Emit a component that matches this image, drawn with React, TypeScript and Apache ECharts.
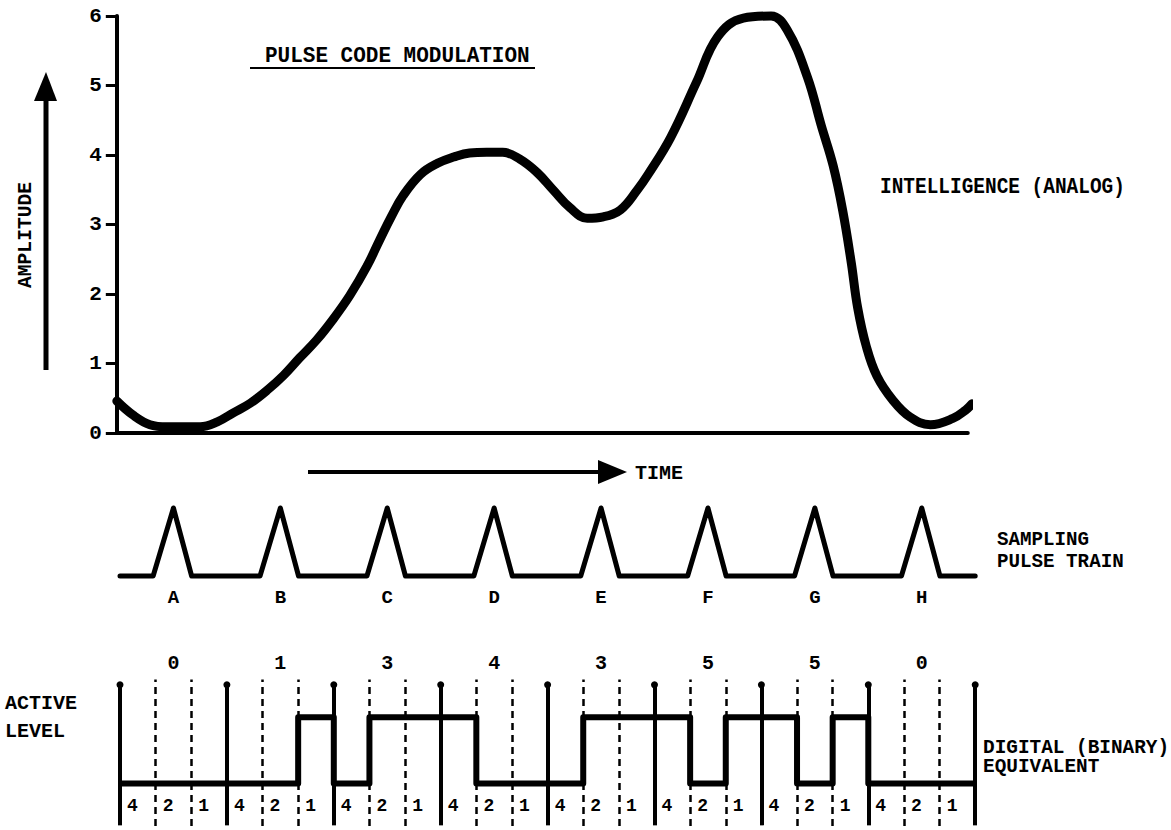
import React, { useEffect, useRef } from "react";
import * as echarts from "echarts";

// ---- data ----
const ANALOG_TIME = [-0.03, 0.12, 0.28, 0.44, 0.75, 0.91, 1.06, 1.22, 1.38, 1.53, 1.68, 1.84, 1.99, 2.15, 2.31, 2.43, 2.54, 2.65, 2.81, 2.97, 3.12, 3.27, 3.43, 3.58, 3.74, 3.9, 4.05, 4.21, 4.37, 4.52, 4.68, 4.84, 4.94, 5.15, 5.39, 5.59, 5.83, 6.09, 6.24, 6.43, 6.56, 6.67, 6.76, 6.84, 6.9, 6.98, 7.08, 7.23, 7.39, 7.58, 7.79, 7.91, 7.97];
const ANALOG_AMPLITUDE = [0.46, 0.26, 0.12, 0.09, 0.09, 0.16, 0.29, 0.43, 0.62, 0.83, 1.08, 1.34, 1.63, 1.98, 2.4, 2.78, 3.12, 3.42, 3.72, 3.88, 3.97, 4.03, 4.04, 4.04, 3.94, 3.75, 3.5, 3.24, 3.09, 3.11, 3.21, 3.5, 3.72, 4.25, 5.04, 5.7, 5.97, 6.0, 5.8, 5.12, 4.42, 3.85, 3.2, 2.45, 1.8, 1.25, 0.82, 0.47, 0.23, 0.12, 0.21, 0.33, 0.42];
const AMPLITUDE_TICKS = ["0", "1", "2", "3", "4", "5", "6"];
const SAMPLE_LABELS = ["A", "B", "C", "D", "E", "F", "G", "H"];
const SAMPLE_CODES = [0, 1, 3, 4, 3, 5, 5, 0];
const BIT_WEIGHTS = ["4", "2", "1"];
const BIT_VALUES = [4, 2, 1];

// pulse shape (styling of the sampling pulse, in sample periods)
const PULSE_RISE = 0.19;
const PULSE_FALL = 0.17;

const FONT = "Liberation Mono";

export default function App() {
  const ref = useRef<HTMLDivElement>(null);

  useEffect(() => {
    if (!ref.current) return;
    const chart = echarts.init(ref.current, null, { renderer: "svg" });
    const N = SAMPLE_LABELS.length;

    const analogData = ANALOG_TIME.map((t, i) => [t, ANALOG_AMPLITUDE[i]]);

    const pulseData: number[][] = [[0, 0]];
    for (let i = 0; i < N; i++) {
      const c = i + 0.5;
      pulseData.push([c - PULSE_RISE, 0], [c, 1], [c + PULSE_FALL, 0]);
    }
    pulseData.push([N, 0]);

    const letterData = SAMPLE_LABELS.map((l, i) => ({ value: [i + 0.5, -0.33], name: l }));

    const waveData: number[][] = [];
    SAMPLE_CODES.forEach((code, i) => {
      BIT_VALUES.forEach((w, j) => {
        const b = code & w ? 1 : 0;
        waveData.push([i + j / 3, b], [i + (j + 1) / 3, b]);
      });
    });

    const codeData = SAMPLE_CODES.map((c, i) => ({ value: [i + 0.5, 1.82], name: String(c) }));
    const bitLabelData: any[] = [];
    for (let i = 0; i < N; i++) {
      BIT_WEIGHTS.forEach((w, j) => {
        bitLabelData.push({ value: [i + (j + 0.5) / 3 - 0.05, -0.34], name: w });
      });
    }

    const solidLines = [];
    for (let i = 0; i <= N; i++) {
      solidLines.push([{ coord: [i, -0.63] }, { coord: [i, 1.49] }]);
    }
    const dashedLines = [];
    for (let i = 0; i < N; i++) {
      for (let j = 1; j < 3; j++) {
        dashedLines.push([{ coord: [i + j / 3, -0.64] }, { coord: [i + j / 3, 1.57] }]);
      }
    }

    const txt = (text: string, x: number, y: number, size: number, scaleX = 1, extra: any = {}) => ({
      type: "text",
      x,
      y,
      scaleX,
      silent: true,
      style: {
        text,
        fill: "#000",
        fontFamily: FONT,
        fontWeight: "bold",
        fontSize: size,
        align: "left",
        verticalAlign: "middle",
      },
      ...extra,
    });

    const labelStyle = (size: number) => ({
      show: true,
      position: "inside",
      formatter: (p: any) => p.name,
      color: "#000",
      opacity: 1,
      fontFamily: FONT,
      fontWeight: "bold",
      fontSize: size,
      textBorderWidth: 0,
      textBorderColor: "transparent",
    });

    const labelSeries = (name: string, data: any[], size: number, extra: any = {}) => ({
      name,
      type: "scatter",
      data,
      symbol: "circle",
      symbolSize: 0,
      itemStyle: { color: "#000000", opacity: 1 },
      label: labelStyle(size),
      emphasis: { disabled: true },
      silent: true,
      z: 5,
      ...extra,
    });

    const option: any = {
      animation: false,
      backgroundColor: "#ffffff",
      grid: [
        { left: 116.8, top: 16, width: 851, height: 417 },
        { left: 120, top: 508, width: 855.2, height: 102 },
        { left: 120, top: 657.7, width: 855.2, height: 174.2 },
      ],
      xAxis: [
        {
          gridIndex: 0,
          type: "value",
          min: -0.03,
          max: 7.93,
          axisLine: { show: true, lineStyle: { color: "#000", width: 4 } },
          axisTick: { show: false },
          axisLabel: { show: false },
          splitLine: { show: false },
        },
        { gridIndex: 1, type: "value", min: 0, max: 8, show: false },
        { gridIndex: 2, type: "value", min: 0, max: 8, show: false },
      ],
      yAxis: [
        {
          gridIndex: 0,
          type: "value",
          min: 0,
          max: 6,
          interval: 1,
          axisLine: { show: true, onZero: false, lineStyle: { color: "#000", width: 4 } },
          axisTick: { show: true, inside: false, length: 11, lineStyle: { color: "#000", width: 3 } },
          axisLabel: {
            show: true,
            margin: 15,
            color: "#000",
            fontFamily: FONT,
            fontWeight: "bold",
            fontSize: 21,
            formatter: (v: number) => AMPLITUDE_TICKS[Math.round(v)] ?? "",
          },
          splitLine: { show: false },
        },
        { gridIndex: 1, type: "value", min: -0.5, max: 1, show: false },
        { gridIndex: 2, type: "value", min: -0.7, max: 1.9, show: false },
      ],
      series: [
        {
          name: "Intelligence (analog)",
          type: "line",
          xAxisIndex: 0,
          yAxisIndex: 0,
          data: analogData,
          smooth: 0.4,
          symbol: "none",
          clip: false,
          lineStyle: { color: "#000", width: 9, cap: "round", join: "round" },
        },
        {
          name: "Sampling pulse train",
          type: "line",
          xAxisIndex: 1,
          yAxisIndex: 1,
          data: pulseData,
          symbol: "none",
          clip: false,
          lineStyle: { color: "#000", width: 5, cap: "round", join: "round" },
        },
        labelSeries("Sample labels", letterData, 19, { xAxisIndex: 1, yAxisIndex: 1 }),
        {
          name: "Digital (binary) equivalent",
          type: "line",
          xAxisIndex: 2,
          yAxisIndex: 2,
          data: waveData,
          symbol: "none",
          clip: false,
          lineStyle: { color: "#000", width: 6, join: "round" },
          markLine: {
            silent: true,
            symbol: ["none", "circle"],
            symbolSize: 7,
            label: { show: false },
            lineStyle: { color: "#000", width: 4, type: "solid" },
            data: solidLines,
          },
        },
        labelSeries("Bit weights", bitLabelData, 18, {
          xAxisIndex: 2,
          yAxisIndex: 2,
          markLine: {
            silent: true,
            symbol: "none",
            label: { show: false },
            lineStyle: { color: "#000", width: 2.5, type: [7, 5] },
            data: dashedLines,
          },
        }),
        labelSeries("Sample codes", codeData, 20, {
          xAxisIndex: 2,
          yAxisIndex: 2,
          markLine: {
            silent: true,
            symbol: "none",
            label: { show: false },
            lineStyle: { color: "#000", width: 4, type: "solid" },
            data: [[{ coord: [-0.12, 1] }, { coord: [0, 1] }]],
          },
        }),
      ],
      graphic: [
        txt("PULSE CODE MODULATION", 265, 56, 22, 0.955),
        { type: "line", silent: true, shape: { x1: 250, y1: 68, x2: 535, y2: 68 }, style: { stroke: "#000", lineWidth: 2 } },
        txt("AMPLITUDE", 26, 235, 20, 0.98, { rotation: Math.PI / 2, style: { text: "AMPLITUDE", fill: "#000", fontFamily: FONT, fontWeight: "bold", fontSize: 20, align: "center", verticalAlign: "middle" } }),
        { type: "line", silent: true, shape: { x1: 46, y1: 370, x2: 46, y2: 96 }, style: { stroke: "#000", lineWidth: 5 } },
        { type: "polygon", silent: true, shape: { points: [[46, 72], [34, 101], [57, 101]] }, style: { fill: "#000" } },
        txt("INTELLIGENCE (ANALOG)", 880, 187, 22, 0.884),
        { type: "line", silent: true, shape: { x1: 308, y1: 472, x2: 602, y2: 472 }, style: { stroke: "#000", lineWidth: 4 } },
        { type: "polygon", silent: true, shape: { points: [[598, 460], [627, 472], [598, 484]] }, style: { fill: "#000" } },
        txt("TIME", 635, 473, 20, 1.0),
        txt("SAMPLING", 997, 540, 20, 0.96),
        txt("PULSE TRAIN", 997, 562, 20, 0.96),
        txt("ACTIVE", 5, 703, 20, 1.0),
        txt("LEVEL", 5, 731, 20, 1.0),
        txt("DIGITAL (BINARY)", 983, 748, 20, 0.97),
        txt("EQUIVALENT", 983, 767, 20, 0.97),
      ],
    };

    chart.setOption(option);
    return () => chart.dispose();
  }, []);

  return (
    <div
      ref={ref}
      style={{ position: "fixed", left: 0, top: 0, width: 1171, height: 830, background: "#fff" }}
    />
  );
}
